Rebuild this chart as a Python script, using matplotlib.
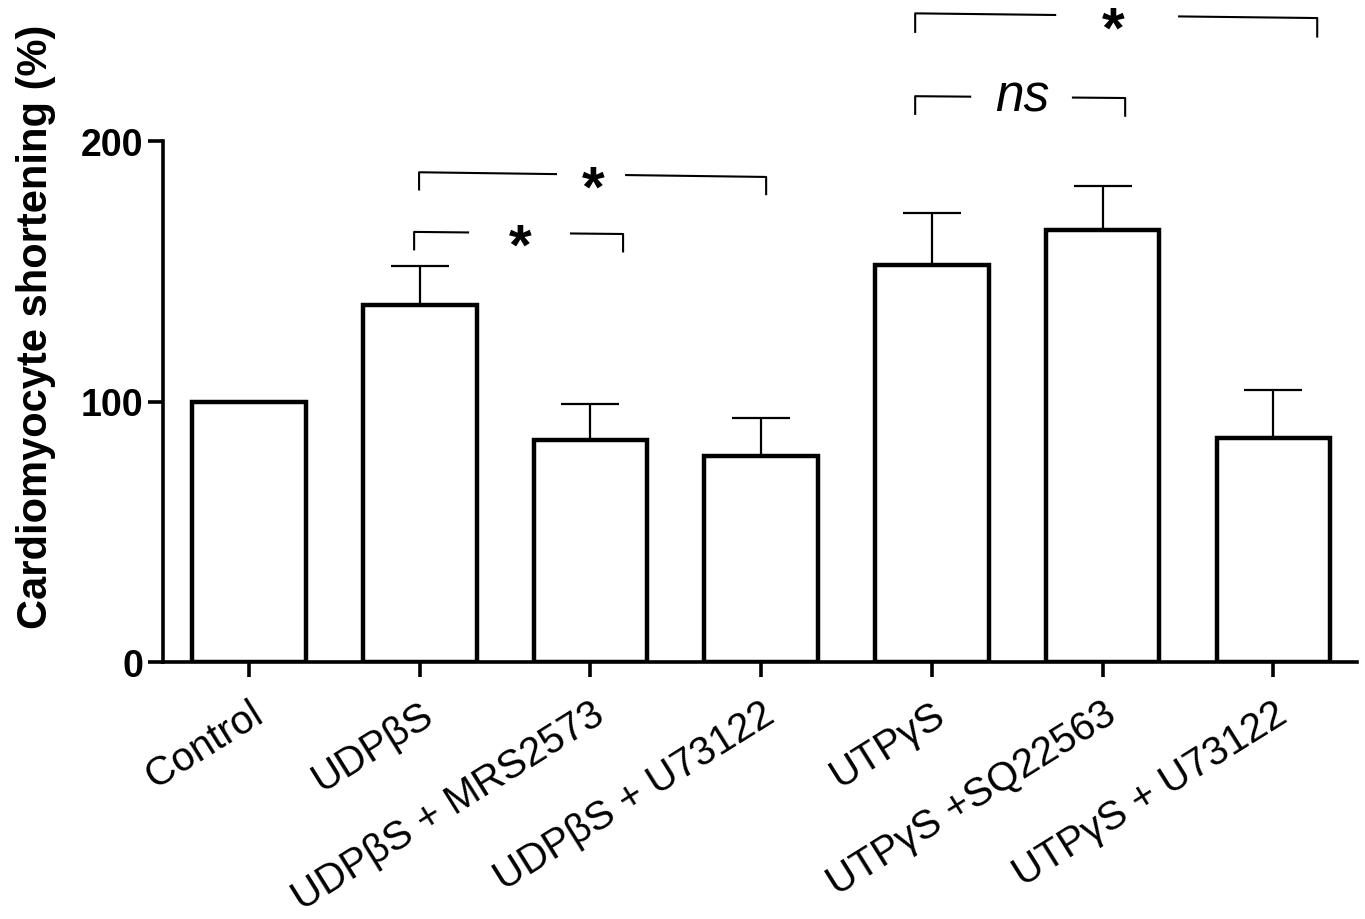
import matplotlib
matplotlib.use("Agg")
import matplotlib.pyplot as plt
import numpy as np

plt.rcParams['font.family'] = ['Liberation Sans', 'DejaVu Sans']

# ---- data ----
categories = ["Control", "UDPβS", "UDPβS + MRS2573", "UDPβS + U73122",
              "UTPγS", "UTPγS +SQ22563", "UTPγS + U73122"]
means = [100.0, 137.0, 85.3, 79.2, 152.5, 165.8, 86.0]
err_upper = [0.0, 15.0, 13.7, 14.5, 19.9, 17.0, 18.4]
yticks = [0, 100, 200]
ylabel = "Cardiomyocyte shortening (%)"

# significance brackets: (x_left, x_right, y_top_left, y_top_right, y_leg_end, label, gap_left, gap_right, label_x)
brackets = [
    (0.967, 2.191, 165.1, 164.3, 158.0, "*", 1.289, 1.880, 1.588),
    (0.996, 3.029, 188.0, 186.2, 181.0, "*", 1.804, 2.203, 2.015),
    (3.902, 5.132, 217.2, 216.5, 210.0, "ns", 4.230, 4.820, 4.528),
    (3.902, 6.257, 249.0, 247.2, 241.5, "*", 4.728, 5.442, 5.060),
]

fig = plt.figure(figsize=(13.65, 9.2), dpi=100)
ax = fig.add_axes([163/1365, (920-663)/920, 1194/1365, 521/920])

x = np.arange(len(categories))
ax.bar(x, means, width=0.665, color='white', edgecolor='black', linewidth=3.2, zorder=2)
ax.errorbar(x, means, yerr=[np.zeros(len(means)), err_upper], fmt='none',
            ecolor='black', elinewidth=1.6, capsize=21, capthick=1.6, zorder=1)

ax.set_xlim(-0.504, 6.49)
ax.set_ylim(0, 200)
ax.set_yticks(yticks)
ax.set_yticklabels([str(t) for t in yticks], fontsize=27, fontweight='bold')
ax.set_xticks(x)
ax.set_xticklabels(categories, fontsize=29, rotation=32, ha='right', va='top',
                   rotation_mode='anchor')

for s in ['top', 'right']:
    ax.spines[s].set_visible(False)
for s in ['left', 'bottom']:
    ax.spines[s].set_linewidth(2.6)
ax.tick_params(axis='both', direction='out', length=11, width=2.6, color='black')
ax.tick_params(axis='y', pad=3)
ax.tick_params(axis='x', pad=12)

ax.set_ylabel(ylabel, fontsize=30, fontweight='bold')
ax.yaxis.set_label_coords(-0.090, 0.645)

# brackets
for (xl, xr, ytl, ytr, yleg, lab, gl, gr, lx) in brackets:
    slope = (ytr - ytl) / (xr - xl)
    yg1 = ytl + slope * (gl - xl)
    yg2 = ytl + slope * (gr - xl)
    kw = dict(color='black', lw=1.5, clip_on=False, solid_capstyle='butt')
    ax.plot([xl, xl, gl], [yleg, ytl, yg1], **kw)
    ax.plot([gr, xr, xr], [yg2, ytr, yleg - (ytl - ytr)], **kw)
    ymid = (yg1 + yg2) / 2
    if lab == "*":
        ax.text(lx, ymid - 6, lab, fontsize=42, fontweight='bold', ha='center',
                va='center', clip_on=False)
    else:
        ax.text(lx, ymid, lab, fontsize=37, fontstyle='italic', ha='center',
                va='center', clip_on=False)

fig.savefig("out.png", dpi=100, facecolor='white')
